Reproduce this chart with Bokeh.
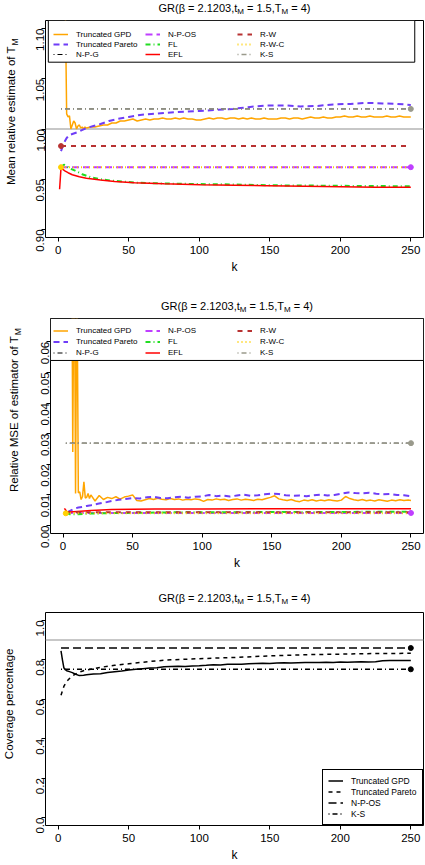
import math
from bokeh.plotting import figure
from bokeh.models import (Range1d, FixedTicker, PrintfTickFormatter, Span, BoxAnnotation,
                          Legend, LegendItem)
from bokeh.layouts import column, row
from bokeh.core.properties import value
from bokeh.embed import file_html
from bokeh.resources import INLINE

# ------------------------------------------------------------------ data
K_TICKS = [0, 50, 100, 150, 200, 250]
MEAN_TICKS = [0.90, 0.95, 1.00, 1.05, 1.10]
MSE_TICKS = [0.00, 0.01, 0.02, 0.03, 0.04, 0.05, 0.06]
COV_TICKS = [0.0, 0.2, 0.4, 0.6, 0.8, 1.0]

TITLE_PARTS = [("GR(β = 2.1203,t", False), ("M", True), (" = 1.5,T", False),
               ("M", True), (" = 4)", False)]
YLAB_MEAN = ("Mean relative estimate of T", "M")
YLAB_MSE = ("Relative MSE of estimator of T", "M")
YLAB_COV = ("Coverage percentage", None)
XLAB = "k"

NAMES = ["Truncated GPD", "Truncated Pareto", "N-P-G", "N-P-OS", "FL", "EFL",
         "R-W", "R-W-C", "K-S"]
COV_NAMES = ["Truncated GPD", "Truncated Pareto", "N-P-OS", "K-S"]

# dense k grid for the noisy Truncated GPD curves
K_FINE = list(range(2, 20)) + list(range(20, 249, 3)) + [250]
K_ENDS = [2, 250]

# ---- panel 1: mean relative estimate
GPD_MEAN = [
    1.300, 1.260, 1.200, 1.130, 1.015, 1.012, 1.013, 1.000, 1.004,
    1.008, 1.006, 1.000, 1.003, 1.004, 1.001, 1.002, 1.000, 1.002,
    1.001, 1.002, 1.002, 1.003, 1.004, 1.004, 1.006, 1.006, 1.008, 1.008,
    1.009, 1.010, 1.008, 1.009, 1.010, 1.009, 1.010, 1.010, 1.011, 1.010,
    1.010, 1.011, 1.010, 1.011, 1.010, 1.010, 1.009, 1.009, 1.010, 1.011,
    1.010, 1.011, 1.011, 1.010, 1.011, 1.011, 1.010, 1.011, 1.010, 1.011,
    1.010, 1.010, 1.011, 1.010, 1.010, 1.010, 1.011, 1.011, 1.010, 1.011,
    1.011, 1.010, 1.011, 1.012, 1.011, 1.011, 1.012, 1.011, 1.011, 1.012,
    1.012, 1.013, 1.012, 1.012, 1.013, 1.012, 1.012, 1.013, 1.012, 1.012,
    1.012, 1.013, 1.012, 1.012, 1.013, 1.012, 1.012,
    1.012,
]
K_PAR_MEAN = [2, 4, 6, 8, 10, 14, 20, 25, 30, 36, 42, 50, 58, 66, 75, 85, 100,
              112, 124, 136, 148, 160, 172, 184, 195, 207, 219, 230, 240, 250]
PAR_MEAN = [0.978, 0.986, 0.991, 0.994, 0.995, 0.997, 1.001, 1.003, 1.005, 1.008,
            1.010, 1.012, 1.014, 1.015, 1.016, 1.017, 1.018, 1.019, 1.020, 1.022,
            1.0235, 1.0235, 1.0225, 1.023, 1.0245, 1.025, 1.026, 1.0255, 1.025, 1.024]
K_FL_MEAN = [2, 4, 6, 8, 12, 17, 23, 30, 37, 45, 56, 73, 100, 124, 150, 175, 195, 225, 250]
FL_MEAN = [0.962, 0.9645, 0.963, 0.961, 0.9585, 0.955, 0.952, 0.950, 0.9488, 0.9478,
           0.9465, 0.9458, 0.9452, 0.9448, 0.944, 0.9437, 0.9435, 0.9432, 0.943]
K_EFL_MEAN = [1, 2, 3, 5, 7, 10, 15, 20, 30, 40, 54, 75, 101, 125, 148, 175, 200, 225, 250]
EFL_MEAN = [0.940, 0.9615, 0.960, 0.958, 0.9565, 0.9545, 0.9525, 0.951, 0.9492, 0.9478,
            0.9465, 0.9455, 0.9445, 0.944, 0.9435, 0.943, 0.9425, 0.942, 0.942]
NPG_MEAN = [1.020, 1.020]
NPOS_MEAN = [0.962, 0.962]
RW_MEAN = [0.983, 0.983]
RWC_MEAN = [0.962, 0.962]
KS_MEAN = [1.020, 1.020]
MEAN_TARGET = 1.0

# ---- panel 2: relative MSE
GPD_MSE = [
    0.400, 0.330, 0.250, 0.180, 0.120, 0.024, 0.100, 0.0105, 0.085,
    0.0107, 0.0110, 0.0085, 0.0095, 0.0143, 0.0090, 0.0092, 0.0105, 0.0088,
    0.0100, 0.0080, 0.0098, 0.0085, 0.0092, 0.0088, 0.0094, 0.0086, 0.0093, 0.0096,
    0.0100, 0.0082, 0.0080, 0.0084, 0.0088, 0.0085, 0.0089, 0.0086, 0.0084, 0.0088,
    0.0085, 0.0087, 0.0083, 0.0086, 0.0084, 0.0087, 0.0085, 0.0079, 0.0085, 0.0083,
    0.0087, 0.0084, 0.0086, 0.0082, 0.0085, 0.0087, 0.0083, 0.0086, 0.0084, 0.0082,
    0.0086, 0.0084, 0.0088, 0.0092, 0.0097, 0.0087, 0.0084, 0.0082, 0.0085, 0.0080,
    0.0078, 0.0083, 0.0081, 0.0084, 0.0080, 0.0083, 0.0081, 0.0084, 0.0082, 0.0080,
    0.0083, 0.0095, 0.0088, 0.0084, 0.0082, 0.0085, 0.0081, 0.0083, 0.0080, 0.0084,
    0.0082, 0.0079, 0.0083, 0.0081, 0.0084, 0.0082, 0.0083,
    0.0082,
]
K_PAR_MSE = [3, 5, 8, 11, 14, 17] + list(range(20, 251, 5))
PAR_MSE = [
    0.0043, 0.0048, 0.0055, 0.0059, 0.0061, 0.0064,
    0.0066, 0.0071, 0.0075, 0.0080, 0.0084, 0.0087, 0.0090, 0.0088, 0.0092, 0.0094,
    0.0090, 0.0089, 0.0092, 0.0094, 0.0091, 0.0094, 0.0095, 0.0100, 0.0096, 0.0098,
    0.0095, 0.0098, 0.0101, 0.0097, 0.0099, 0.0102, 0.0104, 0.0103, 0.0099, 0.0097,
    0.0098, 0.0096, 0.0099, 0.0101, 0.0098, 0.0100, 0.0104, 0.0108, 0.0106, 0.0105,
    0.0107, 0.0104, 0.0102, 0.0103, 0.0100, 0.0099, 0.0096,
]
K_FL_MSE = [2, 5, 10, 20, 40, 80, 150, 250]
FL_MSE = [0.0042, 0.0037, 0.0037, 0.0039, 0.0041, 0.0043, 0.0044, 0.0045]
K_EFL_MSE = [1, 2, 3, 5, 10, 20, 35, 50, 66, 100, 150, 200, 250]
EFL_MSE = [0.0056, 0.0050, 0.0043, 0.0044, 0.0046, 0.0049, 0.0052, 0.0053, 0.0054,
           0.0054, 0.0055, 0.0055, 0.0055]
NPG_MSE = [0.0269, 0.0269]
NPOS_MSE = [0.0041, 0.0041]
RW_MSE = [0.0043, 0.0043]
RWC_MSE = [0.0040, 0.0040]
KS_MSE = [0.0269, 0.0269]

# ---- panel 3: coverage
K_COV = [2, 3, 4, 5, 6, 8, 10, 12, 15, 18] + list(range(20, 251, 5))
GPD_COV = [
    0.845, 0.800, 0.760, 0.750, 0.745, 0.740, 0.735, 0.728, 0.720, 0.722,
    0.724, 0.728, 0.730, 0.736, 0.740, 0.743, 0.748, 0.752, 0.755, 0.758,
    0.760, 0.765, 0.766, 0.767, 0.766, 0.769, 0.770, 0.772, 0.775, 0.774,
    0.777, 0.778, 0.778, 0.780, 0.782, 0.783, 0.782, 0.784, 0.785, 0.784,
    0.785, 0.786, 0.786, 0.787, 0.788, 0.787, 0.789, 0.788, 0.789, 0.790,
    0.789, 0.790, 0.795, 0.797, 0.796, 0.797, 0.797,
]
K_PAR_COV = [2, 4, 6, 8, 10, 14, 18, 25, 30, 40, 50, 60, 70, 80, 100, 125, 150, 175,
             200, 225, 250]
PAR_COV = [0.620, 0.665, 0.690, 0.705, 0.718, 0.735, 0.745, 0.755, 0.762, 0.772, 0.780,
           0.788, 0.795, 0.800, 0.806, 0.812, 0.820, 0.826, 0.829, 0.832, 0.833]
NPOS_COV = [0.860, 0.860]
KS_COV = [0.752, 0.752]
COV_NOMINAL = 0.9

# ------------------------------------------------------------------ styling helpers
FONT = "'Liberation Sans'"
TOTAL_W = 424
YLAB_W = 22
MAIN_W = TOTAL_W - YLAB_W
X_RANGE = (-9, 259)
ROT_WIDEN = 1.14   # rotated labels come out wider than the Arial metrics below

AW = {' ': 278, '(': 333, ')': 333, ',': 278, '.': 278, '=': 584, '-': 333, 'β': 572,
      'G': 778, 'R': 722, 'M': 833, 'T': 611, 'S': 667, 'E': 667, 'C': 722,
      'a': 556, 'b': 556, 'c': 500, 'd': 556, 'e': 556, 'f': 278, 'g': 556, 'h': 556,
      'i': 222, 'k': 500, 'l': 222, 'm': 833, 'n': 556, 'o': 556, 'p': 556, 'r': 333,
      's': 500, 't': 278, 'u': 556, 'v': 500}


def text_w(s, size):
    return sum(AW.get(ch, 556) for ch in s) * size / 1000.0


def canvas(w, h):
    c = figure(width=w, height=h, x_range=Range1d(0, w), y_range=Range1d(0, h),
               output_backend="svg", toolbar_location=None, tools="", title=None,
               x_axis_location=None, y_axis_location=None, min_border=0)
    c.min_border_left = 0
    c.min_border_right = 0
    c.min_border_top = 0
    c.min_border_bottom = 0
    c.outline_line_color = None
    c.background_fill_color = "white"
    c.border_fill_color = "white"
    c.grid.visible = False
    return c


def put_text(c, x, y, txt, size, angle=0.0, align="left"):
    # leading blanks would be collapsed by SVG, so they are turned into an offset
    lead = txt[:len(txt) - len(txt.lstrip())]
    adv = text_w(lead, size)
    dx, dy = (0, adv) if angle else (adv, 0)
    c.text(x=[x + dx], y=[y + dy], text=[txt.strip()], angle=angle, text_font=value(FONT),
           text_font_size=value(f"{size}px"), text_color="black",
           text_align=value(align), text_baseline=value("middle"))


def title_fig(h, yc, xc, main=11, sub=8):
    c = canvas(TOTAL_W, h)
    widths = [text_w(t, sub if s else main) for t, s in TITLE_PARTS]
    x0 = xc - sum(widths) / 2
    for (t, s), w in zip(TITLE_PARTS, widths):
        put_text(c, x0, yc - (4 if s else 0), t, sub if s else main)
        x0 += w
    return c


def ylab_fig(h, xc, yc, lab, main=11.5, sub=8.5):
    c = canvas(YLAB_W, h)
    txt, subtxt = lab
    if not subtxt:
        put_text(c, xc, yc, txt, main, angle=math.pi / 2, align="center")
        return c
    wm = text_w(txt, main) * ROT_WIDEN
    ws = text_w(subtxt, sub) * ROT_WIDEN
    junction = yc - (wm + ws) / 2 + wm
    put_text(c, xc, junction, txt, main, angle=math.pi / 2, align="right")
    put_text(c, xc + 4, junction + 1, subtxt, sub, angle=math.pi / 2, align="left")
    return c


def make_fig(h, y_rng, y_ticks, y_fmt, left, bottom):
    p = figure(width=MAIN_W, height=h, x_range=Range1d(*X_RANGE), y_range=Range1d(*y_rng),
               output_backend="svg", toolbar_location=None, tools="", title=None,
               min_border_left=left, min_border_right=1, min_border_top=1,
               min_border_bottom=bottom)
    p.xgrid.visible = False
    p.ygrid.visible = False
    p.outline_line_color = "black"
    p.outline_line_width = 1
    p.outline_line_alpha = 1
    p.background_fill_color = "white"
    p.border_fill_color = "white"
    for ax in (p.xaxis[0], p.yaxis[0]):
        ax.axis_line_color = None
        ax.major_tick_out = 4
        ax.major_tick_in = 0
        ax.major_tick_line_color = "black"
        ax.minor_tick_line_color = None
        ax.major_label_text_font = FONT
        ax.major_label_text_font_size = "11.5px"
        ax.major_label_text_color = "black"
    p.xaxis[0].ticker = FixedTicker(ticks=K_TICKS)
    p.xaxis[0].major_label_standoff = 4
    p.yaxis[0].ticker = FixedTicker(ticks=y_ticks)
    p.yaxis[0].formatter = PrintfTickFormatter(format=y_fmt)
    p.yaxis[0].major_label_orientation = math.pi / 2
    p.yaxis[0].major_label_standoff = 1
    p.xaxis[0].axis_label = XLAB
    p.xaxis[0].axis_label_text_font = FONT
    p.xaxis[0].axis_label_text_font_size = "12px"
    p.xaxis[0].axis_label_text_font_style = "normal"
    p.xaxis[0].axis_label_text_color = "black"
    p.xaxis[0].axis_label_standoff = 3
    return p


def style_legend(leg, size="8px", lh=10):
    leg.label_text_font = FONT
    leg.label_text_font_size = size
    leg.label_text_color = "black"
    leg.glyph_width = 15
    leg.glyph_height = lh
    leg.label_height = lh
    leg.label_standoff = 8
    leg.spacing = 0
    leg.margin = 0


C_GPD = "#FFA500"
C_PAR = "#6F3DF7"
C_NPG = "black"
C_NPOS = "#BF3EFF"
C_FL = "#22DD22"
C_EFL = "#FF0000"
C_RW = "#B83232"
C_RWC = "#FFD000"
C_KS = "#9A9A8C"
C_REF = "#B4B4B4"

# ------------------------------------------------------------------ panel 1
Y1 = (0.892, 1.108)
H1_T, H1_M = 19, 269
p1 = make_fig(H1_M, Y1, MEAN_TICKS, "%.2f", left=23, bottom=51)
p1.add_layout(Span(location=MEAN_TARGET, dimension="width", line_color=C_REF,
                   line_width=1.5, level="underlay"))
r = {}
r["Truncated GPD"] = p1.line(K_FINE, GPD_MEAN, line_color=C_GPD, line_width=1.5)
r["Truncated Pareto"] = p1.line(K_PAR_MEAN, PAR_MEAN, line_color=C_PAR, line_width=2,
                                line_dash="6 4")
r["N-P-G"] = p1.line(K_ENDS, NPG_MEAN, line_color=C_NPG, line_width=1,
                     line_dash="1 3 5 3")
r["N-P-OS"] = p1.line(K_ENDS, NPOS_MEAN, line_color=C_NPOS, line_width=2, line_dash="7 4")
r["FL"] = p1.line(K_FL_MEAN, FL_MEAN, line_color=C_FL, line_width=2, line_dash="5 3 1 3")
r["EFL"] = p1.line(K_EFL_MEAN, EFL_MEAN, line_color=C_EFL, line_width=1.5)
r["R-W"] = p1.line(K_ENDS, RW_MEAN, line_color=C_RW, line_width=2, line_dash="5 5")
r["R-W-C"] = p1.line(K_ENDS, RWC_MEAN, line_color=C_RWC, line_width=2, line_dash="1 3")
r["K-S"] = p1.line(K_ENDS, KS_MEAN, line_color=C_KS, line_width=1.5, line_dash="1 3 5 3")
p1.scatter([K_ENDS[0]], [RW_MEAN[0]], size=5, color=C_RW)
p1.scatter([K_ENDS[0]], [RWC_MEAN[0]], size=5, color=C_RWC)
p1.scatter([K_ENDS[1]], [NPOS_MEAN[1]], size=5, color=C_NPOS)
p1.scatter([K_ENDS[1]], [KS_MEAN[1]], size=5, color=C_KS)
p1.add_layout(BoxAnnotation(left=-7, right=252.8, top=Y1[1], bottom=1.0665,
                            fill_color="white", fill_alpha=1, line_color="black",
                            line_width=1, line_alpha=1))
leg1 = Legend(items=[LegendItem(label=n, renderers=[r[n]]) for n in NAMES],
              orientation="vertical", nrows=3, location=(8, 178),
              border_line_color=None, background_fill_alpha=0, padding=2)
style_legend(leg1)
leg1.label_width = 69
p1.add_layout(leg1)
panel1 = column(title_fig(H1_T, 12, 234),
                row(ylab_fig(H1_M, 10, 162, YLAB_MEAN), p1))

# ------------------------------------------------------------------ panel 2
Y2 = (-0.0026, 0.0676)
H2_T, H2_M = 29, 259
p2 = make_fig(H2_M, Y2, MSE_TICKS, "%.2f", left=28, bottom=43)
q = {}
q["Truncated GPD"] = p2.line(K_FINE, GPD_MSE, line_color=C_GPD, line_width=1.5)
q["Truncated Pareto"] = p2.line(K_PAR_MSE, PAR_MSE, line_color=C_PAR, line_width=2,
                                line_dash="6 4")
q["N-P-G"] = p2.line(K_ENDS, NPG_MSE, line_color=C_NPG, line_width=1,
                     line_dash="1 3 5 3")
q["N-P-OS"] = p2.line(K_ENDS, NPOS_MSE, line_color=C_NPOS, line_width=2, line_dash="7 4")
q["FL"] = p2.line(K_FL_MSE, FL_MSE, line_color=C_FL, line_width=2, line_dash="5 3 1 3")
q["EFL"] = p2.line(K_EFL_MSE, EFL_MSE, line_color=C_EFL, line_width=1.5)
q["R-W"] = p2.line(K_ENDS, RW_MSE, line_color=C_RW, line_width=2, line_dash="5 5")
q["R-W-C"] = p2.line(K_ENDS, RWC_MSE, line_color=C_RWC, line_width=2, line_dash="1 3")
q["K-S"] = p2.line(K_ENDS, KS_MSE, line_color=C_KS, line_width=1.5, line_dash="1 3 5 3")
p2.scatter([K_ENDS[0]], [RWC_MSE[0]], size=5, color=C_RWC)
p2.scatter([K_ENDS[1]], [NPOS_MSE[1]], size=5, color=C_NPOS)
p2.scatter([K_ENDS[1]], [KS_MSE[1]], size=5, color=C_KS)
p2.add_layout(BoxAnnotation(top=Y2[1], bottom=0.0539, fill_color="white", fill_alpha=1,
                            line_color="black", line_width=1, line_alpha=1))
leg2 = Legend(items=[LegendItem(label=n, renderers=[q[n]]) for n in NAMES],
              orientation="vertical", nrows=3, location=(3, 175),
              border_line_color=None, background_fill_alpha=0, padding=2)
style_legend(leg2, lh=11)
leg2.label_width = 69
p2.add_layout(leg2)
panel2 = column(title_fig(H2_T, 12, 236.5),
                row(ylab_fig(H2_M, 13, 153, YLAB_MSE), p2))

# ------------------------------------------------------------------ panel 3
Y3 = (-0.04, 1.04)
H3_T, H3_M = 35, 253
p3 = make_fig(H3_M, Y3, COV_TICKS, "%.1f", left=23, bottom=37)
p3.add_layout(Span(location=COV_NOMINAL, dimension="width", line_color=C_REF,
                   line_width=1.5, level="underlay"))
s = {}
s["Truncated GPD"] = p3.line(K_COV, GPD_COV, line_color="black", line_width=1.5)
s["Truncated Pareto"] = p3.line(K_PAR_COV, PAR_COV, line_color="black", line_width=1.5,
                                line_dash="4 4")
s["N-P-OS"] = p3.line(K_ENDS, NPOS_COV, line_color="black", line_width=1.5,
                      line_dash="8 4")
s["K-S"] = p3.line(K_ENDS, KS_COV, line_color="black", line_width=1.5,
                   line_dash="1 3 5 3")
p3.scatter([K_ENDS[1]], [NPOS_COV[1]], size=5, color="black")
p3.scatter([K_ENDS[1]], [KS_COV[1]], size=5, color="black")
leg3 = Legend(items=[LegendItem(label=n, renderers=[s[n]]) for n in COV_NAMES],
              orientation="vertical", location="bottom_right",
              border_line_color="black", border_line_width=1, border_line_alpha=1,
              background_fill_color="white", background_fill_alpha=1, padding=5)
style_legend(leg3, size="8.5px", lh=11)
leg3.label_width = 66
p3.add_layout(leg3)
panel3 = column(title_fig(H3_T, 14, 234),
                row(ylab_fig(H3_M, 8, 144.5, YLAB_COV), p3))

layout = column(panel1, panel2, panel3)
open("out.html", "w").write(file_html(layout, INLINE))
